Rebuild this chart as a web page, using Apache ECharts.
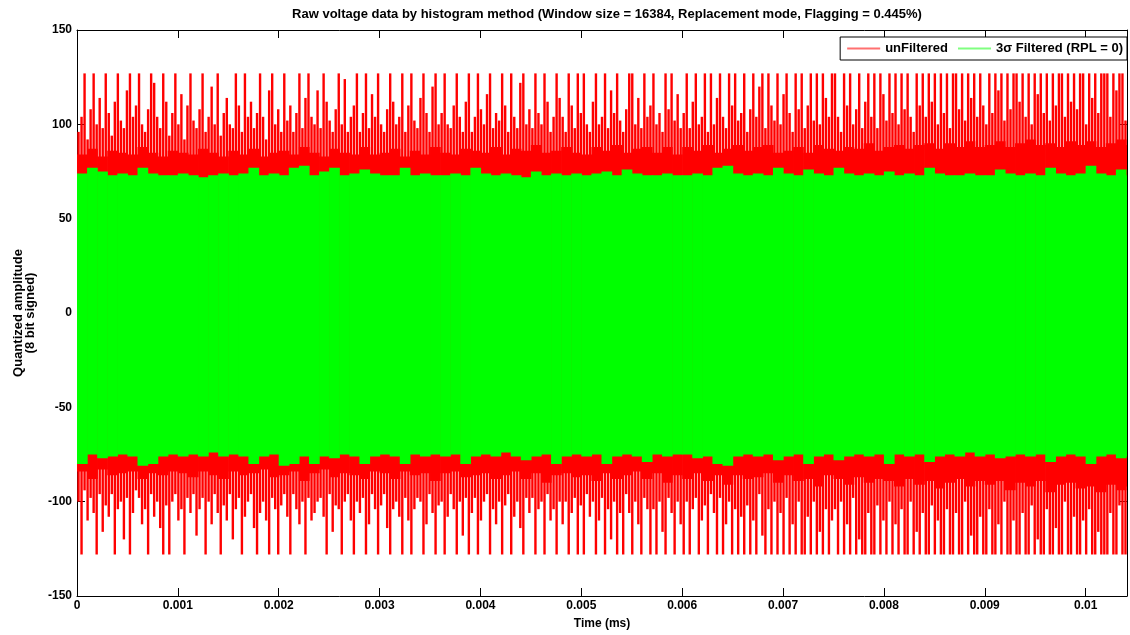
<!DOCTYPE html>
<html>
<head>
<meta charset="utf-8">
<script src="https://cdn.jsdelivr.net/npm/echarts@6/dist/echarts.min.js"></script>
<style>
  html, body { margin: 0; padding: 0; background: #fff; }
  #chart { width: 1130px; height: 635px; }
</style>
</head>
<body>
<div id="chart"></div>
<script>
// time axis (ms)
var xMax = 0.01041;
var binWidth = 0.0001;   // envelope bins
var spikeStep = 0.00003; // spike columns

// red (unfiltered) solid core, per bin
var redCoreHi = [
  84,87,83,86,85,84,88,85,83,86,
  85,84,87,85,83,86,84,87,83,85,
  86,84,88,85,83,87,85,84,88,84,
  85,87,83,86,84,88,85,84,87,86,
  85,88,84,87,86,89,85,86,88,85,
  84,88,86,89,85,87,88,85,88,84,
  88,86,89,85,87,89,86,88,89,85,
  86,88,85,89,87,86,88,87,90,86,
  88,89,87,89,90,87,90,88,91,88,
  89,91,88,90,92,89,90,88,91,89,
  91,88,90,92,89
];
var redCoreLo = [
  -84,-88,-83,-86,-85,-84,-88,-85,-86,-84,
  -85,-87,-84,-86,-88,-84,-86,-85,-83,-87,
  -86,-84,-89,-85,-83,-87,-85,-86,-88,-84,
  -85,-88,-84,-86,-85,-89,-85,-84,-87,-86,
  -85,-88,-86,-84,-88,-85,-90,-86,-85,-87,
  -86,-89,-85,-88,-86,-84,-88,-85,-90,-86,
  -88,-85,-89,-86,-91,-86,-88,-87,-85,-90,
  -86,-89,-88,-92,-86,-88,-91,-87,-90,-88,
  -89,-92,-88,-91,-89,-93,-90,-88,-92,-89,
  -91,-89,-94,-90,-92,-89,-95,-91,-90,-93,
  -92,-95,-91,-94,-92
];

// red spikes, one per spike column
var upperSpikes = [
  96,104,127,92,108,127,100,114,98,127,
  106,94,112,127,102,98,118,127,104,110,
  127,100,96,108,127,122,104,98,127,112,
  94,106,127,100,116,92,110,127,102,98,
  108,127,96,104,120,100,127,94,106,114,
  100,98,127,110,96,127,104,112,98,106,
  127,104,92,118,127,100,108,96,127,102,
  110,96,106,127,98,114,127,104,100,118,
  98,127,112,102,96,108,127,100,124,96,
  104,110,127,96,106,127,98,116,104,127,
  100,96,108,127,112,100,104,127,96,110,
  127,102,98,114,127,106,96,120,127,100,
  106,127,100,98,110,127,104,96,112,127,
  96,104,127,108,100,116,127,98,106,102,
  127,110,96,127,104,98,122,127,100,108,
  98,127,106,100,127,112,96,104,127,114,
  104,96,127,110,98,127,106,127,100,96,
  112,127,100,104,127,98,118,106,127,102,
  96,108,127,127,100,114,98,127,104,110,
  127,100,106,96,127,108,127,102,116,98,
  106,127,98,112,127,100,104,127,96,127,
  100,114,127,104,98,127,110,127,102,106,
  127,96,108,127,104,120,127,98,127,110,
  102,127,100,116,127,106,96,127,108,127,
  98,110,127,102,127,100,127,114,104,127,
  127,104,96,127,110,127,100,108,127,98,
  112,127,104,127,98,127,116,102,127,106,
  127,100,127,108,127,104,96,127,110,127,
  104,127,112,127,100,127,106,127,98,127,
  127,108,127,102,127,114,127,104,127,110,
  100,127,106,127,118,127,102,127,108,127,
  127,112,127,104,127,100,127,116,127,106,
  127,102,127,110,127,127,104,127,112,127,
  108,127,127,100,127,114,127,106,127,127,
  127,104,127,118,127,127,102,127,110,127
];
var lowerSpikes = [
  -100,-128,-94,-110,-98,-106,-128,-96,-116,-102,
  -108,-96,-128,-104,-100,-120,-98,-128,-106,-94,
  -98,-112,-104,-128,-96,-108,-100,-114,-128,-102,
  -128,-100,-96,-110,-104,-128,-98,-106,-96,-118,
  -104,-98,-128,-100,-112,-96,-106,-128,-102,-110,
  -96,-120,-104,-98,-128,-108,-100,-96,-114,-128,
  -106,-100,-110,-128,-98,-104,-128,-102,-96,-108,
  -128,-96,-104,-112,-100,-128,-98,-110,-106,-100,
  -98,-108,-128,-96,-116,-102,-104,-128,-100,-96,
  -110,-128,-100,-106,-98,-128,-112,-96,-104,-128,
  -102,-96,-114,-128,-104,-100,-108,-128,-98,-110,
  -128,-104,-98,-100,-128,-112,-96,-106,-128,-102,
  -100,-128,-108,-96,-104,-128,-100,-118,-98,-128,
  -106,-98,-128,-110,-100,-96,-128,-104,-112,-100,
  -128,-102,-96,-128,-108,-100,-114,-128,-98,-106,
  -98,-128,-104,-100,-128,-96,-110,-104,-128,-100,
  -112,-100,-128,-106,-98,-128,-102,-128,-96,-108,
  -100,-128,-110,-98,-128,-104,-120,-100,-128,-106,
  -128,-96,-106,-128,-100,-112,-128,-98,-104,-128,
  -104,-128,-100,-116,-128,-98,-106,-128,-100,-112,
  -128,-100,-128,-104,-98,-128,-110,-102,-128,-96,
  -106,-128,-98,-128,-112,-100,-128,-104,-128,-108,
  -128,-102,-128,-110,-128,-96,-118,-128,-104,-128,
  -100,-128,-106,-128,-98,-128,-112,-128,-100,-128,
  -128,-108,-128,-100,-128,-116,-128,-104,-128,-110,
  -104,-128,-100,-128,-112,-128,-98,-128,-120,-128,
  -128,-106,-128,-128,-102,-128,-110,-128,-100,-128,
  -112,-128,-104,-128,-128,-100,-128,-116,-128,-106,
  -128,-128,-102,-128,-110,-128,-128,-104,-128,-128,
  -106,-128,-128,-100,-128,-118,-128,-128,-108,-128,
  -128,-104,-128,-128,-112,-128,-100,-128,-128,-110,
  -128,-128,-106,-128,-128,-102,-128,-120,-128,-128,
  -104,-128,-128,-114,-128,-128,-100,-128,-128,-108,
  -128,-128,-110,-128,-104,-128,-128,-116,-128,-128,
  -128,-106,-128,-128,-102,-128,-128,-112,-128,-128
];

// green (3 sigma filtered) envelope, per bin
var greenHi = [
  74,77,75,73,74,73,77,74,73,73,
  74,73,72,73,74,73,74,77,73,74,
  73,77,78,73,75,77,73,74,76,74,
  73,73,77,73,74,73,73,74,73,77,
  74,73,74,73,72,75,73,74,73,74,
  73,74,75,73,76,74,73,73,74,73,
  73,74,73,77,78,74,73,74,73,77,
  74,73,76,74,73,77,74,73,74,73,
  75,73,74,73,77,74,73,73,74,73,
  73,76,74,73,74,73,77,74,73,74,
  78,74,73,76,73
];
var greenLo = [
  -80,-75,-77,-76,-75,-76,-81,-80,-76,-75,
  -76,-75,-76,-74,-76,-75,-76,-80,-76,-75,
  -81,-80,-76,-80,-76,-77,-75,-76,-80,-76,
  -75,-76,-80,-75,-76,-75,-76,-75,-80,-76,
  -75,-76,-74,-76,-78,-76,-75,-80,-76,-75,
  -76,-75,-80,-76,-75,-76,-79,-75,-76,-75,
  -75,-77,-76,-80,-81,-76,-75,-76,-75,-78,
  -76,-75,-80,-76,-75,-78,-76,-75,-76,-75,
  -80,-75,-76,-75,-79,-76,-75,-76,-74,-76,
  -75,-77,-76,-75,-76,-75,-79,-76,-75,-76,
  -80,-76,-75,-77,-76
];

var font = "'Liberation Sans', Arial, sans-serif";

function binData(lo, hi) {
  var out = [];
  for (var i = 0; i < lo.length; i++) {
    out.push([(i + 0.5) * binWidth, lo[i], hi[i]]);
  }
  return out;
}
function spikeData(vals) {
  var out = [];
  for (var i = 0; i < vals.length; i++) {
    out.push([(i + 0.5) * spikeStep, vals[i]]);
  }
  return out;
}

function renderBand(params, api) {
  var t = api.value(0);
  var a = api.coord([t - binWidth / 2, api.value(2)]);
  var b = api.coord([t + binWidth / 2, api.value(1)]);
  return {
    type: 'rect',
    shape: { x: a[0], y: a[1], width: b[0] - a[0] + 0.6, height: b[1] - a[1] },
    style: { fill: api.visual('color') }
  };
}
function renderSpike(params, api) {
  var a = api.coord([api.value(0), 0]);
  var b = api.coord([api.value(0), api.value(1)]);
  var w = 2.4;
  return {
    type: 'rect',
    shape: { x: a[0] - w / 2, y: Math.min(a[1], b[1]), width: w, height: Math.abs(b[1] - a[1]) },
    style: { fill: api.visual('color') }
  };
}

var chart = echarts.init(document.getElementById('chart'));
var axisCommon = {
  axisLine: { onZero: false, lineStyle: { color: '#000', width: 1 } },
  axisTick: { inside: true, length: 8, lineStyle: { color: '#000' } },
  splitLine: { show: false }
};

var option = {
  animation: false,
  backgroundColor: '#fff',
  title: {
    text: 'Raw voltage data by histogram method (Window size = 16384, Replacement mode, Flagging = 0.445%)',
    left: 602,
    textAlign: 'center',
    top: 3,
    textStyle: { fontFamily: font, fontSize: 13, fontWeight: 'bold', color: '#000' }
  },
  legend: {
    right: 3,
    top: 37,
    orient: 'horizontal',
    padding: [5, 4, 5, 7],
    itemGap: 10,
    itemWidth: 33,
    itemHeight: 2,
    borderColor: '#000',
    borderWidth: 1,
    backgroundColor: '#fff',
    textStyle: { fontFamily: font, fontSize: 13, fontWeight: 'bold', color: '#000' },
    data: [
      { name: 'unFiltered', icon: 'rect', itemStyle: { color: '#ff7070' } },
      { name: '3σ Filtered (RPL = 0)', icon: 'rect', itemStyle: { color: '#80ff80' } }
    ]
  },
  grid: { left: 77, right: 3, top: 30, bottom: 38 },
  xAxis: [
    Object.assign({}, axisCommon, {
      type: 'value', min: 0, max: xMax, interval: 0.001,
      name: 'Time (ms)', nameLocation: 'middle', nameGap: 22,
      nameTextStyle: { fontFamily: font, fontSize: 12, fontWeight: 'bold', color: '#000' },
      axisLabel: {
        fontFamily: font, fontSize: 12, fontWeight: 'bold', color: '#000', margin: 4,
        formatter: function (v) { return v > 0.01 + 1e-9 ? '' : String(+v.toFixed(3)); }
      }
    }),
    Object.assign({}, axisCommon, {
      type: 'value', position: 'top', min: 0, max: xMax, interval: 0.001,
      axisLabel: { show: false }
    })
  ],
  yAxis: [
    Object.assign({}, axisCommon, {
      type: 'value', min: -150, max: 150, interval: 50,
      name: 'Quantized amplitude\n(8 bit signed)', nameLocation: 'middle', nameGap: 34,
      nameTextStyle: { fontFamily: font, fontSize: 13, fontWeight: 'bold', color: '#000', lineHeight: 12 },
      axisLabel: { fontFamily: font, fontSize: 12, fontWeight: 'bold', color: '#000', margin: 5 }
    }),
    Object.assign({}, axisCommon, {
      type: 'value', position: 'right', min: -150, max: 150, interval: 50,
      axisLabel: { show: false }
    })
  ],
  series: [
    {
      name: 'unFiltered', type: 'custom', clip: true, renderItem: renderSpike,
      itemStyle: { color: '#ff0000' }, data: spikeData(upperSpikes), z: 1
    },
    {
      name: 'unFiltered', type: 'custom', clip: true, renderItem: renderSpike,
      itemStyle: { color: '#ff0000' }, data: spikeData(lowerSpikes), z: 1
    },
    {
      name: 'unFiltered', type: 'custom', clip: true, renderItem: renderBand,
      itemStyle: { color: '#ff0000' }, data: binData(redCoreLo, redCoreHi), z: 2
    },
    {
      name: '3σ Filtered (RPL = 0)', type: 'custom', clip: true, renderItem: renderBand,
      itemStyle: { color: '#00ff00' }, data: binData(greenLo, greenHi), z: 3
    }
  ]
};
chart.setOption(option);
</script>
</body>
</html>
